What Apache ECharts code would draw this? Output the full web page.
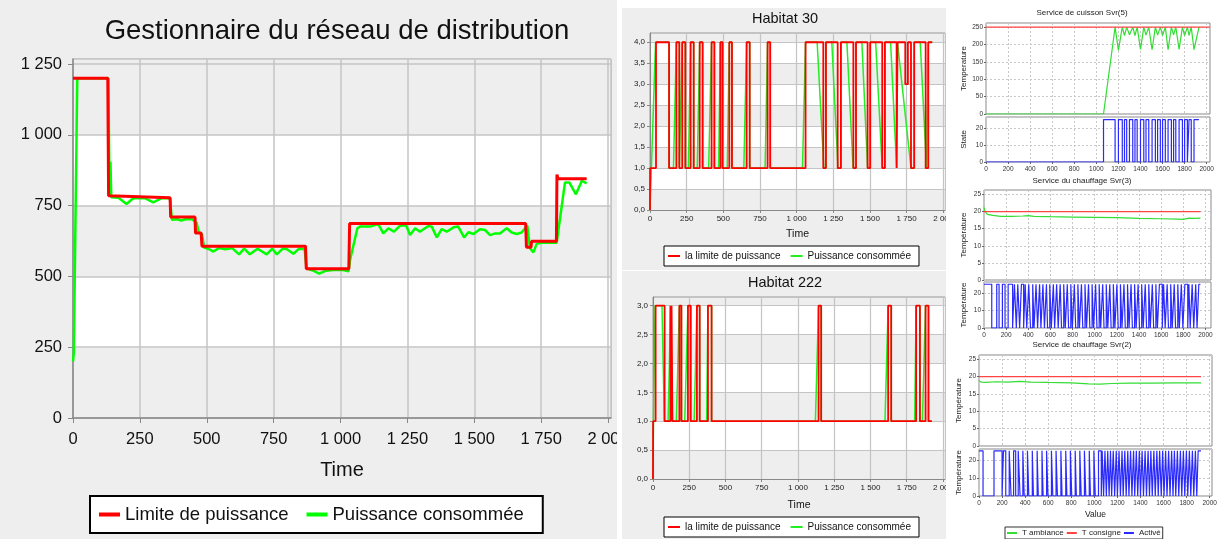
<!DOCTYPE html>
<html>
<head>
<meta charset="utf-8">
<script src="https://cdn.jsdelivr.net/npm/echarts@6/dist/echarts.min.js"></script>
<style>
  body { margin: 0; width: 1223px; height: 539px; background: #fff; position: relative; overflow: hidden; }
  .panel { position: absolute; overflow: hidden; }
  #main { left: 0; top: 0; width: 617px; height: 539px; background: #eeeeee; }
  #h30 { left: 622px; top: 8px; width: 324px; height: 262px; background: #eeeeee; }
  #h222 { left: 622px; top: 271px; width: 324px; height: 268px; background: #eeeeee; }
  #svc { left: 948px; top: 0; width: 275px; height: 539px; background: #fff; }
</style>
</head>
<body>
<div id="main" class="panel"></div>
<div id="h30" class="panel"></div>
<div id="h222" class="panel"></div>
<div id="svc" class="panel"></div>
<script>
// ---------- data: distribution network manager (time, power) ----------
const gridLimit = [[0,1200],[130,1200],[133,785],[137,778],[363,778],[365,710],[456,710],[458,653],[479,653],[482,607],[869,607],[872,527],[1031,527],[1034,687],[1692,687],[1695,603],[1712,603],[1714,624],[1807,624],[1809,860],[1813,845],[1920,845]];
const gridConsumed = [[0,200],[3,230],[16,1200],[132,1200],[137,785],[140,905],[143,780],[170,778],[200,756],[225,776],[270,776],[300,762],[330,776],[362,776],[370,700],[390,702],[405,697],[420,702],[445,702],[462,690],[470,655],[482,650],[490,602],[505,598],[525,588],[545,600],[570,596],[595,600],[621,578],[640,598],[661,578],[690,598],[724,578],[745,598],[762,578],[785,599],[800,596],[824,580],[845,598],[866,596],[873,528],[900,520],[920,510],[945,520],[985,524],[1010,523],[1030,518],[1036,560],[1040,562],[1063,670],[1073,676],[1110,676],[1141,685],[1160,652],[1179,670],[1200,658],[1222,679],[1245,681],[1260,646],[1279,670],[1297,658],[1328,678],[1341,676],[1360,638],[1378,667],[1397,658],[1424,674],[1440,676],[1462,638],[1478,656],[1497,650],[1521,667],[1540,664],[1559,646],[1578,652],[1596,652],[1621,670],[1640,655],[1659,650],[1677,655],[1690,670],[1698,680],[1708,600],[1721,585],[1733,615],[1752,619],[1808,619],[1814,626],[1839,832],[1855,832],[1880,790],[1902,838],[1920,829]];

// ---------- data: Habitat 30 ----------
const h30Limit = [[0,0],[1,1],[41,4],[130,1],[180,4],[200,1],[220,4],[241,1],[277,4],[298,1],[339,4],[359,1],[420,4],[439,1],[480,4],[495,1],[541,4],[559,1],[659,4],[680,1],[802,4],[820,1],[1061,4],[1182,1],[1200,4],[1280,1],[1302,4],[1387,1],[1405,4],[1484,1],[1502,4],[1584,1],[1602,4],[1682,1],[1688,4],[1741,3],[1759,4],[1780,1],[1802,4],[1880,1],[1898,4],[1925,4]];
const h30Consumed = [[0,0],[38,4],[130,4],[130,1],[160,1],[180,4],[200,4],[200,1],[208,1],[220,4],[241,4],[241,1],[262,1],[277,4],[298,4],[298,1],[322,1],[339,4],[359,4],[359,1],[400,1],[420,4],[439,4],[439,1],[468,1],[480,4],[495,4],[495,1],[527,1],[541,4],[559,4],[559,1],[640,1],[659,4],[680,4],[680,1],[785,1],[802,4],[820,4],[820,1],[1040,1],[1061,4],[1140,4],[1186,1],[1200,1],[1200,4],[1240,4],[1282,1],[1302,1],[1302,4],[1343,4],[1385,1],[1405,1],[1405,4],[1445,4],[1484,1],[1502,1],[1502,4],[1539,4],[1584,1],[1602,1],[1602,4],[1641,4],[1682,1],[1688,1],[1688,4],[1699,4],[1780,1],[1802,1],[1802,4],[1843,4],[1886,1],[1898,1],[1898,4],[1925,4]];

// ---------- data: Habitat 222 ----------
const h222Limit = [[0,0],[1,1],[18,3],[80,1],[120,3],[124,1],[128,3],[134,1],[182,3],[196,1],[241,3],[260,1],[303,3],[322,1],[379,3],[404,1],[1142,3],[1160,1],[1622,3],[1643,1],[1815,3],[1841,1],[1880,3],[1900,1],[1923,1]];
const h222Consumed = [[0,0],[3,1],[14,3],[62,3],[78,1],[104,1],[122,3],[134,3],[134,1],[161,1],[182,3],[196,3],[196,1],[219,1],[241,3],[260,3],[260,1],[284,1],[303,3],[322,3],[322,1],[370,1],[379,3],[404,3],[404,1],[1120,1],[1142,3],[1160,3],[1160,1],[1600,1],[1622,3],[1643,3],[1643,1],[1805,1],[1815,3],[1841,3],[1841,1],[1858,1],[1880,3],[1900,3],[1900,1],[1923,1]];

// ---------- data: cooking service Svr(5) ----------
const cookSetpoint = [[0,250],[2030,250]];
const cookTemp = [[0,0],[1065,0],[1170,250],[1200,183],[1235,250],[1255,226],[1275,250],[1300,228],[1330,250],[1350,226],[1370,250],[1400,186],[1430,250],[1450,227],[1475,250],[1505,185],[1535,250],[1555,227],[1580,250],[1600,226],[1625,250],[1650,185],[1680,250],[1700,228],[1720,250],[1750,186],[1780,250],[1800,226],[1825,250],[1840,226],[1860,250],[1885,185],[1930,250]];
const cookState = [[0,0],[1065,25],[1170,0],[1200,25],[1235,0],[1255,25],[1275,0],[1300,25],[1330,0],[1350,25],[1370,0],[1400,25],[1430,0],[1450,25],[1475,0],[1505,25],[1535,0],[1555,25],[1580,0],[1600,25],[1625,0],[1650,25],[1680,0],[1700,25],[1720,0],[1750,25],[1780,0],[1800,25],[1825,0],[1840,25],[1860,0],[1885,25],[1930,25]];

// ---------- data: heating service Svr(3) ----------
const heat3Setpoint = [[0,20],[1955,20]];
const heat3Temp = [[0,21.2],[10,20],[30,19.2],[80,18.9],[150,18.6],[250,18.6],[350,18.7],[400,18.8],[450,18.6],[600,18.5],[800,18.4],[1000,18.3],[1200,18.2],[1400,18.0],[1600,17.9],[1750,17.8],[1800,17.7],[1850,18.1],[1900,18.0],[1955,18.1]];
const heat3Active = [[0,25],[70,0],[115,25],[136,0],[166,25],[190,0],[218,25],[258,0],[275,25],[292,0],[305,25],[322,0],[338,25],[358,0],[372,25],[386,0],[404,25],[420,0],[440,25],[452,0],[470,25],[484,0],[502,25],[514,0],[532,25],[546,0],[564,25],[574,0],[594,25],[608,0],[626,25],[638,0],[656,25],[670,0],[688,25],[700,0],[720,25],[734,0],[752,25],[764,0],[784,25],[798,0],[816,25],[828,0],[848,25],[862,0],[880,25],[892,0],[912,25],[926,0],[944,25],[956,0],[976,25],[990,0],[1008,25],[1020,0],[1040,25],[1054,0],[1072,25],[1084,0],[1104,25],[1118,0],[1136,25],[1148,0],[1168,25],[1182,0],[1200,25],[1212,0],[1232,25],[1246,0],[1264,25],[1276,0],[1296,25],[1310,0],[1328,25],[1340,0],[1360,25],[1374,0],[1392,25],[1404,0],[1424,25],[1438,0],[1456,25],[1468,0],[1488,25],[1502,0],[1520,25],[1532,0],[1552,25],[1566,0],[1584,25],[1610,0],[1622,25],[1636,0],[1654,25],[1666,0],[1686,25],[1700,0],[1718,25],[1730,0],[1750,25],[1764,0],[1782,25],[1796,0],[1814,25],[1840,0],[1850,25],[1862,0],[1880,25],[1894,0],[1912,25],[1924,0],[1940,25],[1955,25]];

// ---------- data: heating service Svr(2) ----------
const heat2Setpoint = [[0,20],[1925,20]];
const heat2Temp = [[0,18.8],[20,18.4],[60,18.3],[150,18.5],[250,18.4],[350,18.6],[450,18.4],[600,18.3],[800,18.2],[950,17.9],[1050,17.8],[1150,18.0],[1300,18.1],[1500,18.1],[1700,18.2],[1925,18.2]];
const heat2Active = [[0,25],[35,0],[130,25],[200,0],[212,25],[232,0],[262,25],[278,0],[300,25],[318,0],[340,25],[356,0],[380,25],[392,0],[420,25],[432,0],[462,25],[472,0],[504,25],[514,0],[546,25],[556,0],[586,25],[598,0],[628,25],[640,0],[668,25],[680,0],[710,25],[720,0],[752,25],[762,0],[792,25],[804,0],[834,25],[844,0],[874,25],[886,0],[914,25],[926,0],[956,25],[966,0],[996,25],[1008,0],[1036,25],[1060,0],[1068,25],[1080,0],[1092,25],[1104,0],[1116,25],[1128,0],[1140,25],[1150,0],[1164,25],[1176,0],[1190,25],[1200,0],[1214,25],[1226,0],[1240,25],[1250,0],[1264,25],[1276,0],[1290,25],[1300,0],[1314,25],[1326,0],[1340,25],[1350,0],[1364,25],[1376,0],[1390,25],[1400,0],[1414,25],[1426,0],[1440,25],[1452,0],[1466,25],[1478,0],[1490,25],[1502,0],[1516,25],[1528,0],[1542,25],[1554,0],[1566,25],[1580,0],[1592,25],[1604,0],[1618,25],[1630,0],[1644,25],[1656,0],[1670,25],[1682,0],[1694,25],[1706,0],[1720,25],[1732,0],[1746,25],[1758,0],[1772,25],[1784,0],[1798,25],[1810,0],[1824,25],[1836,0],[1850,25],[1862,0],[1876,25],[1888,0],[1900,25],[1925,25]];

// ---------- helpers ----------
const FONT = '"Liberation Sans", Arial, sans-serif';
const thousands = v => v >= 1000 ? Math.floor(v / 1000) + ' ' + String(v % 1000).padStart(3, '0') : String(v);
const decimalComma = v => v.toFixed(1).replace('.', ',');
const plain = v => String(v);

// ---------- main chart ----------
const mainChart = echarts.init(document.getElementById('main'), null, { renderer: 'canvas' });
mainChart.setOption({
  animation: false,
  graphic: [{
    type: 'text', x: 337, y: 31,
    style: { text: 'Gestionnaire du réseau de distribution', font: '27.5px ' + FONT, fill: '#111', align: 'center', verticalAlign: 'middle' }
  }],
  grid: { left: 73, top: 59, width: 538, height: 359, show: true, borderColor: '#aaaaaa', borderWidth: 1, backgroundColor: 'transparent', outerBoundsMode: 'none', containLabel: false },
  legend: {
    left: 90, top: 496, padding: [9, 19, 9, 9], itemGap: 18, itemWidth: 21, itemHeight: 4, icon: 'rect',
    borderColor: '#000', borderWidth: 2, backgroundColor: '#fff', width: 600,
    textStyle: { fontFamily: FONT, fontSize: 18.5, color: '#111' },
    data: ['Limite de puissance', 'Puissance consommée']
  },
  xAxis: {
    type: 'value', min: 0, max: 2011, interval: 250,
    name: 'Time', nameLocation: 'middle', nameGap: 42, nameMoveOverlap: false,
    nameTextStyle: { fontFamily: FONT, fontSize: 20, color: '#111' },
    axisLine: { show: true, lineStyle: { color: '#888', width: 1.5 } },
    axisTick: { show: true, length: 5, lineStyle: { color: '#888' } },
    axisLabel: { fontFamily: FONT, fontSize: 16.5, color: '#111', margin: 13, formatter: thousands, showMaxLabel: false },
    splitLine: { show: true, lineStyle: { color: '#c4c4c4', width: 1.5 } }
  },
  yAxis: {
    type: 'value', min: 0, max: 1268, interval: 250,
    axisLine: { show: true, lineStyle: { color: '#888', width: 1.5 } },
    axisTick: { show: true, length: 5, lineStyle: { color: '#888' } },
    axisLabel: { fontFamily: FONT, fontSize: 16.5, color: '#111', margin: 11, formatter: thousands, showMaxLabel: false },
    splitLine: { show: true, lineStyle: { color: '#c4c4c4', width: 1.5 } },
    splitArea: { show: true, areaStyle: { color: ['#eeeeee', '#ffffff', '#eeeeee', '#ffffff', '#eeeeee', '#eeeeee'] } }
  },
  series: [
    { name: 'Puissance consommée', type: 'line', data: gridConsumed, showSymbol: false, color: '#00ff00', lineStyle: { width: 2.5, color: '#00ff00' } },
    { name: 'Limite de puissance', type: 'line', data: gridLimit, showSymbol: false, color: '#ff0000', lineStyle: { width: 3, color: '#ff0000' } }
  ]
});

// ---------- habitat charts ----------
function habitatOption(title, grid, xMax, yMax, limit, consumed, legendTop, nameGap) {
  return {
    animation: false,
    graphic: [{
      type: 'text', x: 163, y: title.y,
      style: { text: title.text, font: '14.5px ' + FONT, fill: '#111', align: 'center', verticalAlign: 'middle' }
    }],
    grid: Object.assign({ show: true, borderColor: '#999', borderWidth: 1, backgroundColor: 'transparent', outerBoundsMode: 'none', containLabel: false }, grid),
    legend: {
      left: 42, top: legendTop, padding: [5, 8, 5, 4], itemGap: 10, itemWidth: 12, itemHeight: 2, icon: 'rect',
      borderColor: '#000', borderWidth: 1, backgroundColor: '#fff', width: 400,
      textStyle: { fontFamily: FONT, fontSize: 10, color: '#111' },
      data: ['la limite de puissance', 'Puissance consommée']
    },
    xAxis: {
      type: 'value', min: 0, max: xMax, interval: 250,
      name: 'Time', nameLocation: 'middle', nameGap: nameGap, nameMoveOverlap: false,
      nameTextStyle: { fontFamily: FONT, fontSize: 10.5, color: '#111' },
      axisLine: { show: true, lineStyle: { color: '#888' } },
      axisTick: { show: true, length: 3, lineStyle: { color: '#888' } },
      axisLabel: { fontFamily: FONT, fontSize: 8, color: '#222', margin: 5, formatter: thousands, showMaxLabel: false },
      splitLine: { show: true, lineStyle: { color: '#c4c4c4', width: 1.2 } }
    },
    yAxis: {
      type: 'value', min: 0, max: yMax, interval: 0.5,
      axisLine: { show: true, lineStyle: { color: '#888' } },
      axisTick: { show: true, length: 3, lineStyle: { color: '#888' } },
      axisLabel: { fontFamily: FONT, fontSize: 8, color: '#222', margin: 5, formatter: decimalComma, showMaxLabel: false },
      splitLine: { show: true, lineStyle: { color: '#c4c4c4', width: 1.2 } },
      splitArea: { show: true, areaStyle: { color: ['#eeeeee', '#ffffff'] } }
    },
    series: [
      { name: 'Puissance consommée', type: 'line', data: consumed, showSymbol: false, color: '#22ee22', lineStyle: { width: 1.5, color: '#22ee22' } },
      { name: 'la limite de puissance', type: 'line', step: 'end', data: limit, showSymbol: false, color: '#ff0000', lineStyle: { width: 1.8, color: '#ff0000' } }
    ]
  };
}

echarts.init(document.getElementById('h30')).setOption(
  habitatOption({ text: 'Habitat 30', y: 11 }, { left: 28, top: 25, width: 295, height: 177 }, 2012, 4.22, h30Limit, h30Consumed, 238, 19)
);
echarts.init(document.getElementById('h222')).setOption(
  habitatOption({ text: 'Habitat 222', y: 12 }, { left: 31, top: 26, width: 292, height: 182 }, 2014, 3.15, h222Limit, h222Consumed, 246, 21)
);

// ---------- service charts (right column) ----------
const svcPanels = [
  { title: 'Service de cuisson Svr(5)', titleY: 13, left: 38, width: 224, xMax: 2030, nameGap: 18,
    upper: { top: 23, height: 91, max: 262, interval: 50, name: 'Temperature' },
    lower: { top: 117, height: 45, max: 26.5, interval: 10, name: 'State' },
    setpoint: cookSetpoint, temp: cookTemp, active: cookState,
    names: ['Consigne cuisson', 'Température cuisson', 'État cuisson'] },
  { title: 'Service du chauffage Svr(3)', titleY: 181, left: 36, width: 227, xMax: 2050, nameGap: 16,
    upper: { top: 190, height: 90, max: 26.3, interval: 5, name: 'Température' },
    lower: { top: 282, height: 46, max: 26.3, interval: 10, name: 'Température' },
    setpoint: heat3Setpoint, temp: heat3Temp, active: heat3Active,
    names: ['Consigne Svr(3)', 'Ambiance Svr(3)', 'Activé Svr(3)'] },
  { title: 'Service de chauffage Svr(2)', titleY: 345, left: 31, width: 233, xMax: 2020, nameGap: 16,
    upper: { top: 355, height: 91, max: 26.2, interval: 5, name: 'Température' },
    lower: { top: 449, height: 47, max: 26, interval: 10, name: 'Température' },
    setpoint: heat2Setpoint, temp: heat2Temp, active: heat2Active,
    names: ['T consigne', 'T ambiance', 'Activé'] }
];

const svc = { animation: false, graphic: [], grid: [], xAxis: [], yAxis: [], series: [] };
const small = { fontFamily: FONT, fontSize: 6.5, color: '#333' };
svcPanels.forEach((p, i) => {
  svc.graphic.push({ type: 'text', x: 134, y: p.titleY,
    style: { text: p.title, font: '8px ' + FONT, fill: '#222', align: 'center', verticalAlign: 'middle' } });
  [p.upper, p.lower].forEach((part, j) => {
    const idx = svc.grid.length;
    svc.grid.push({ left: p.left, top: part.top, width: p.width, height: part.height, show: true, borderColor: '#888', borderWidth: 1, backgroundColor: '#fff', outerBoundsMode: 'none', containLabel: false });
    svc.xAxis.push({
      type: 'value', gridIndex: idx, min: 0, max: p.xMax, interval: 200,
      axisLine: { show: false }, axisTick: { show: j === 1, length: 2, lineStyle: { color: '#666' } },
      axisLabel: { show: j === 1, ...small, margin: 4, formatter: plain, showMaxLabel: false },
      splitLine: { show: true, lineStyle: { color: '#c8c8c8', type: [2, 2], width: 1 } },
      name: (i === 2 && j === 1) ? 'Value' : '', nameLocation: 'middle', nameGap: 14, nameMoveOverlap: false,
      nameTextStyle: { fontFamily: FONT, fontSize: 8.5, color: '#222' }
    });
    svc.yAxis.push({
      type: 'value', gridIndex: idx, min: 0, max: part.max, interval: part.interval,
      axisLine: { show: false }, axisTick: { show: true, length: 2, lineStyle: { color: '#666' } },
      axisLabel: { ...small, margin: 3, formatter: plain, showMaxLabel: false },
      splitLine: { show: true, lineStyle: { color: '#c8c8c8', type: [2, 2], width: 1 } },
      name: part.name, nameLocation: 'middle', nameGap: p.nameGap, nameMoveOverlap: false,
      nameTextStyle: { fontFamily: FONT, fontSize: 8, color: '#222' }
    });
  });
  const g = svc.grid.length;
  svc.series.push(
    { name: p.names[1], type: 'line', xAxisIndex: g - 2, yAxisIndex: g - 2, data: p.temp, showSymbol: false, color: '#33dd33', lineStyle: { width: 1.2, color: '#33dd33' } },
    { name: p.names[0], type: 'line', xAxisIndex: g - 2, yAxisIndex: g - 2, data: p.setpoint, showSymbol: false, color: '#ff4444', lineStyle: { width: 1.2, color: '#ff4444' } },
    { name: p.names[2], type: 'line', step: 'end', xAxisIndex: g - 1, yAxisIndex: g - 1, data: p.active, showSymbol: false, color: '#2a2aff', lineStyle: { width: 1.2, color: '#2a2aff' } }
  );
});
svc.legend = {
  left: 57, top: 527, padding: [2, 2, 2, 2], itemGap: 3, itemWidth: 10, itemHeight: 2, icon: 'rect', width: 400,
  borderColor: '#333', borderWidth: 1, backgroundColor: '#fff',
  textStyle: { fontFamily: FONT, fontSize: 8, color: '#222' },
  data: ['T ambiance', 'T consigne', 'Activé']
};
echarts.init(document.getElementById('svc')).setOption(svc);
</script>
</body>
</html>
